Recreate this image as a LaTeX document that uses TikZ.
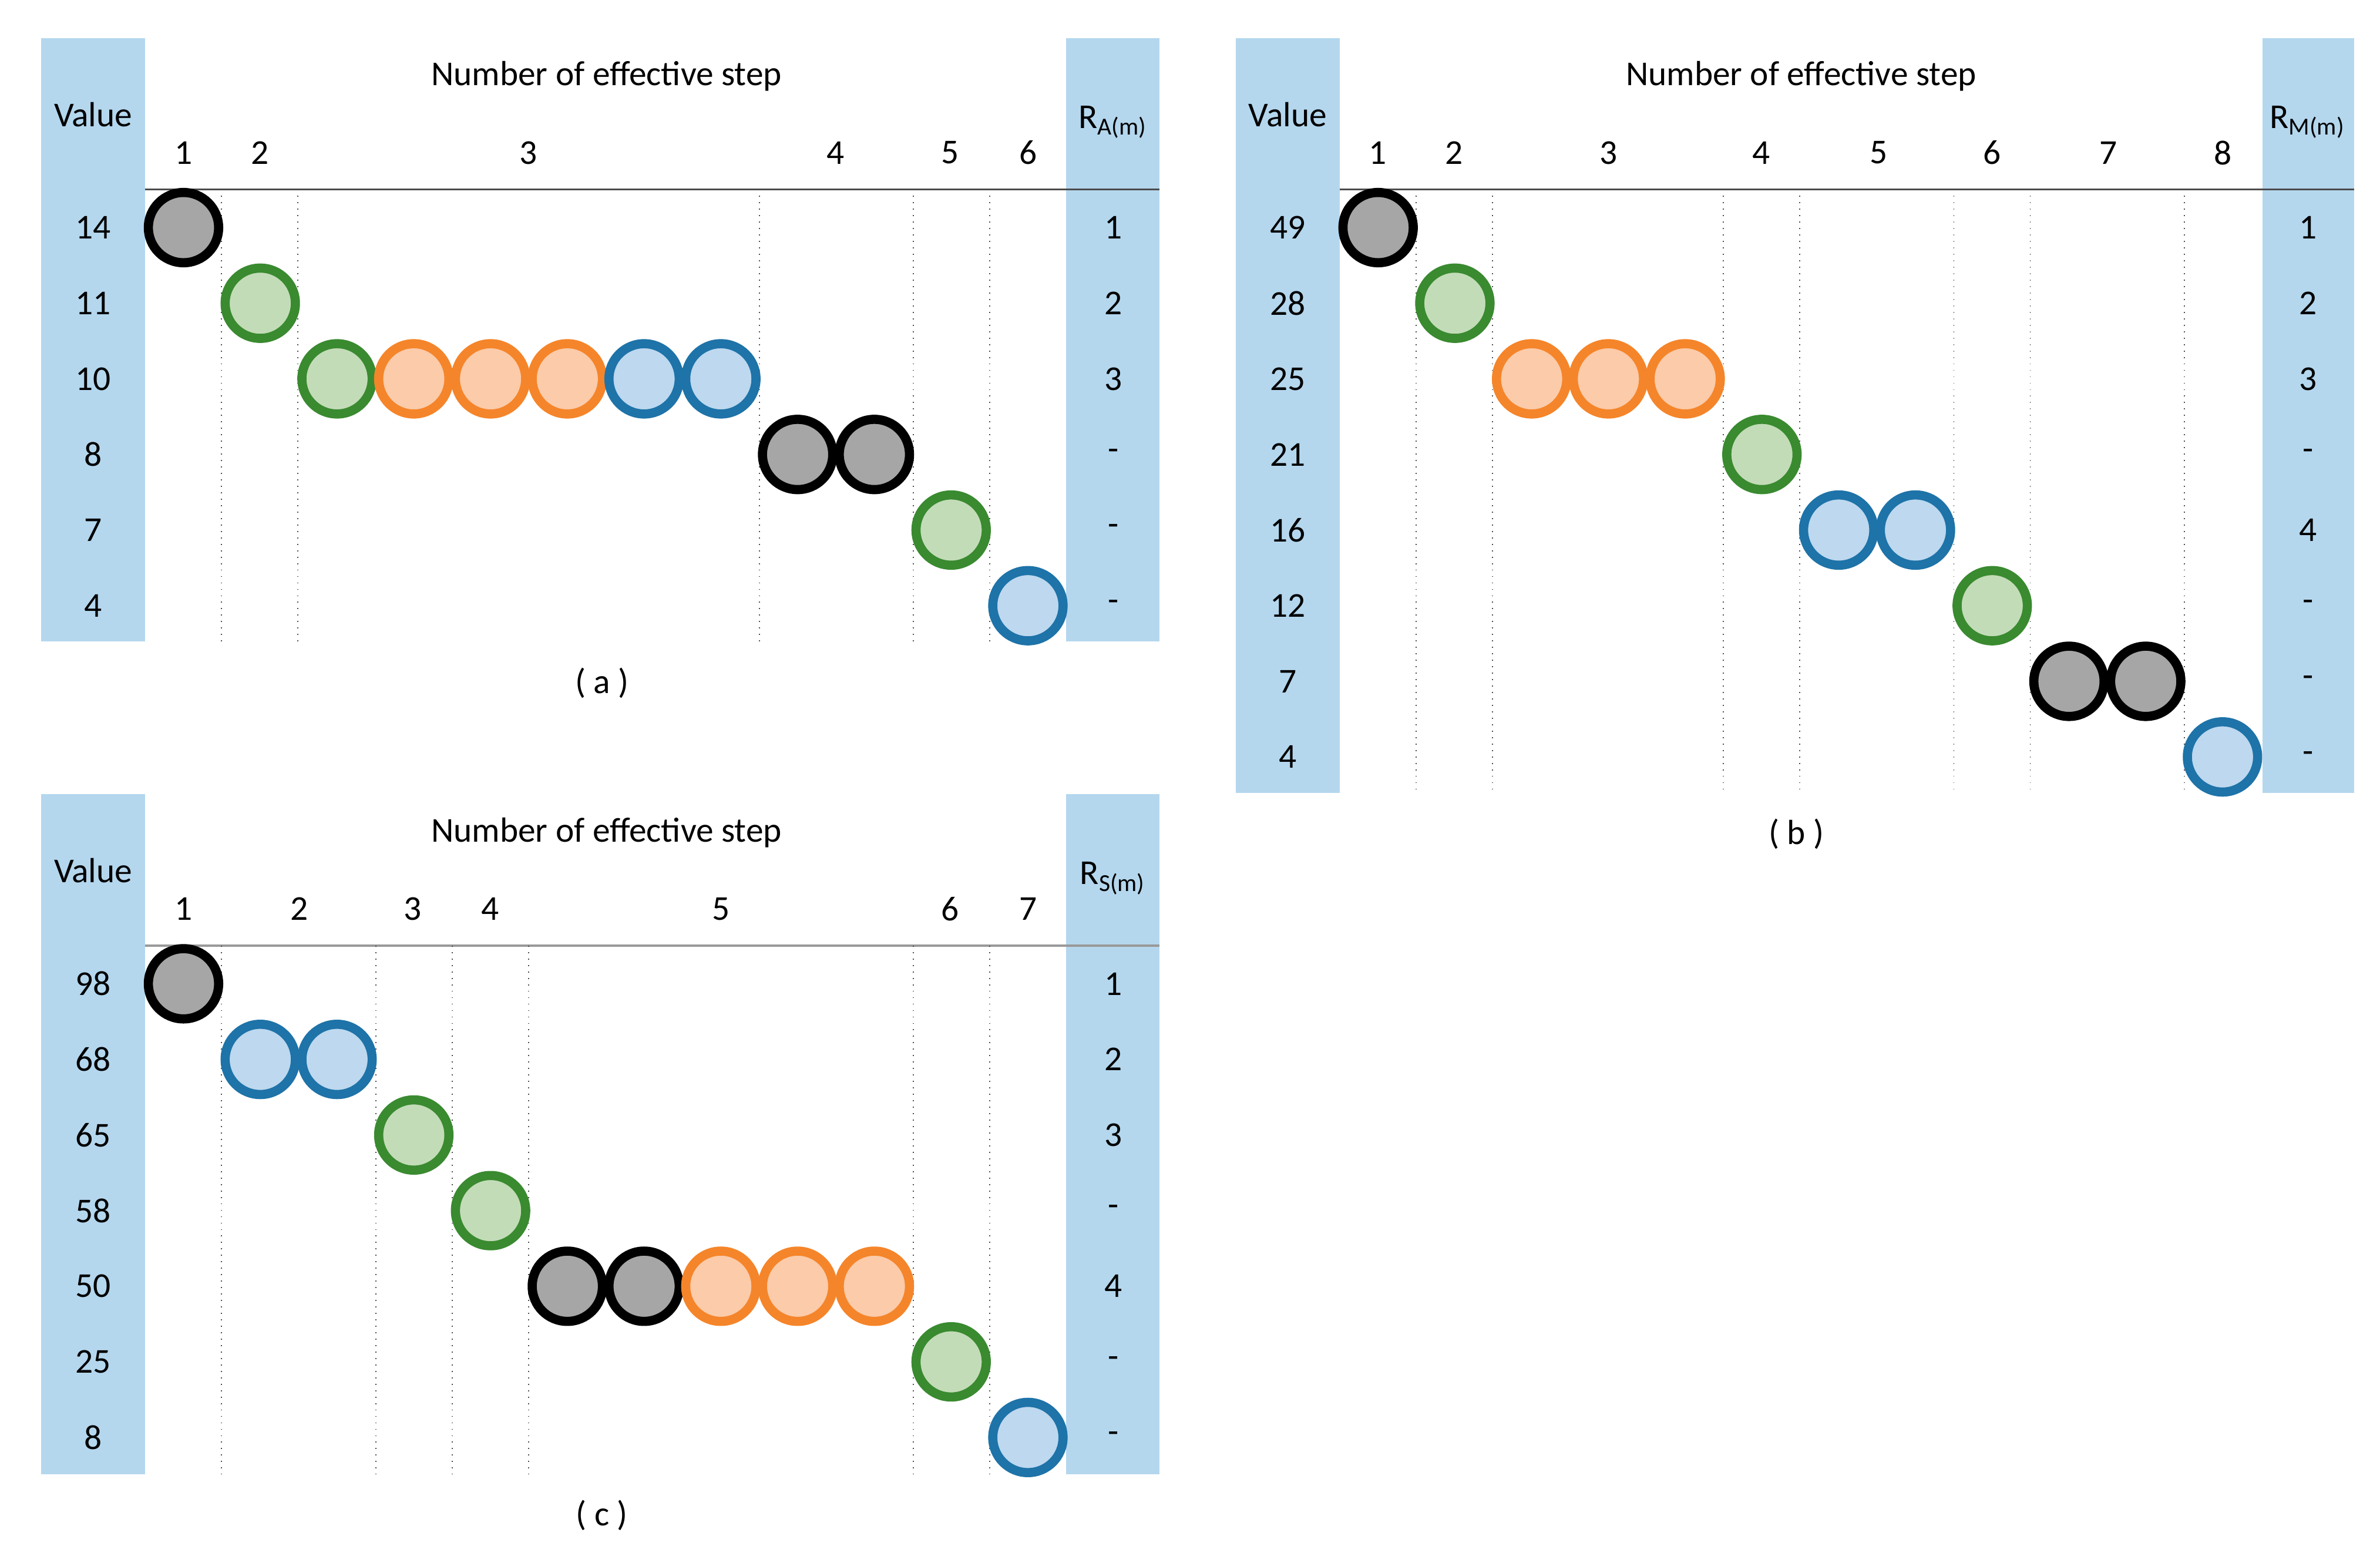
\documentclass[tikz,border=0pt]{standalone}
\usepackage{fontspec}
\setmainfont{Carlito}
\usepackage{tikz}

\definecolor{colband}{HTML}{B4D7EE}
\definecolor{colgreen}{HTML}{3A8A30}
\definecolor{colgreenf}{HTML}{C3DCB8}
\definecolor{colorange}{HTML}{F5852A}
\definecolor{colorangef}{HTML}{FBCBAA}
\definecolor{colblue}{HTML}{1E73A8}
\definecolor{colbluef}{HTML}{BDD8EF}

\tikzset{
	dot/.style={circle,minimum size=4.6mm,inner sep=0pt,line width=0.6mm},
	dotk/.style={dot,draw=black,fill=black!35},
	dotg/.style={dot,draw=colgreen,fill=colgreenf},
	doto/.style={dot,draw=colorange,fill=colorangef},
	dotb/.style={dot,draw=colblue,fill=colbluef},
	txt/.style={inner sep=0pt,font=\fontsize{6.5}{8}\selectfont},
	sep/.style={densely dotted,line width=0.2pt,black!70}
}

\begin{document}
\begin{tikzpicture}[x=0.1mm,y=-0.1mm]
	
	\useasboundingbox (0,0) rectangle (1558,1010);
	
	% panel a
	\fill[colband] (27,25) rectangle (95,420);
	\fill[colband] (698,25) rectangle (759,420);
	\draw[black!70,line width=0.3pt] (95,124) -- (759,124);
	\foreach \x in {145,195,497,598,648}
		\draw[sep] (\x,124) -- (\x,420);
	\node[txt] (avalue) at (61,75) {Value};
	\node[txt] (atitle) at (397,50) {Number of effective step};
	\node[txt] (ar) at (729,80) {R\textsubscript{A(m)}};
	\foreach \x/\n in {120/1,170/2,346/3,547/4,622/5,673/6}
		\node[txt] (as\n) at (\x,100) {\n};
	\foreach \v/\r/\k [count=\i] in {14/1/1,11/2/2,10/3/3,8/-/4,7/-/5,4/-/6}
	{
		\node[txt] (av\i) at (61,{149+49.5*(\k-1)}) {\v};
		\node[txt] (ar\i) at (729,{149+49.5*(\k-1)}) {\r};
	}
	\foreach \r/\c/\s in {1/1/dotk,2/2/dotg,3/3/dotg,3/4/doto,3/5/doto,3/6/doto,3/7/dotb,3/8/dotb,
		4/9/dotk,4/10/dotk,5/11/dotg,6/12/dotb}
		\node[\s] (a-\r-\c) at ({95+50.25*(\c-0.5)},{149+49.5*(\r-1)}) {};
	\node[txt] (acap) at (394,447) {( a )};
	
	% panel b
	\fill[colband] (809,25) rectangle (877,519);
	\fill[colband] (1481,25) rectangle (1541,519);
	\draw[black!70,line width=0.3pt] (877,124) -- (1541,124);
	\foreach \x in {927,977,1128,1178,1279,1329,1430}
		\draw[sep] (\x,124) -- (\x,519);
	\node[txt] (bvalue) at (843,75) {Value};
	\node[txt] (btitle) at (1179,50) {Number of effective step};
	\node[txt] (br) at (1511,80) {R\textsubscript{M(m)}};
	\foreach \x/\n in {902/1,952/2,1053/3,1153/4,1230/5,1304/6,1380/7,1455/8}
		\node[txt] (bs\n) at (\x,100) {\n};
	\foreach \v/\r/\k [count=\i] in {49/1/1,28/2/2,25/3/3,21/-/4,16/4/5,12/-/6,7/-/7,4/-/8}
	{
		\node[txt] (bv\i) at (843,{149+49.5*(\k-1)}) {\v};
		\node[txt] (br\i) at (1511,{149+49.5*(\k-1)}) {\r};
	}
	\foreach \r/\c/\s in {1/1/dotk,2/2/dotg,3/3/doto,3/4/doto,3/5/doto,4/6/dotg,5/7/dotb,5/8/dotb,
		6/9/dotg,7/10/dotk,7/11/dotk,8/12/dotb}
		\node[\s] (b-\r-\c) at ({877+50.25*(\c-0.5)},{149+49.5*(\r-1)}) {};
	\node[txt] (bcap) at (1176,546) {( b )};
	
	% panel c
	\fill[colband] (27,520) rectangle (95,965);
	\fill[colband] (698,520) rectangle (759,965);
	\draw[black!40,line width=0.4pt] (95,619) -- (759,619);
	\foreach \x in {145,246,296,346,598,648}
		\draw[sep] (\x,619) -- (\x,965);
	\node[txt] (cvalue) at (61,570) {Value};
	\node[txt] (ctitle) at (397,545) {Number of effective step};
	\node[txt] (cr) at (729,575) {R\textsubscript{S(m)}};
	\foreach \x/\n in {120/1,196/2,270/3,321/4,472/5,622/6,673/7}
		\node[txt] (cs\n) at (\x,595) {\n};
	\foreach \v/\r/\k [count=\i] in {98/1/1,68/2/2,65/3/3,58/-/4,50/4/5,25/-/6,8/-/7}
	{
		\node[txt] (cv\i) at (61,{644+49.5*(\k-1)}) {\v};
		\node[txt] (cr\i) at (729,{644+49.5*(\k-1)}) {\r};
	}
	\foreach \r/\c/\s in {1/1/dotk,2/2/dotb,2/3/dotb,3/4/dotg,4/5/dotg,5/6/dotk,5/7/dotk,
		5/8/doto,5/9/doto,5/10/doto,6/11/dotg,7/12/dotb}
		\node[\s] (c-\r-\c) at ({95+50.25*(\c-0.5)},{644+49.5*(\r-1)}) {};
	\node[txt] (ccap) at (394,992) {( c )};
	
\end{tikzpicture}
\end{document}
